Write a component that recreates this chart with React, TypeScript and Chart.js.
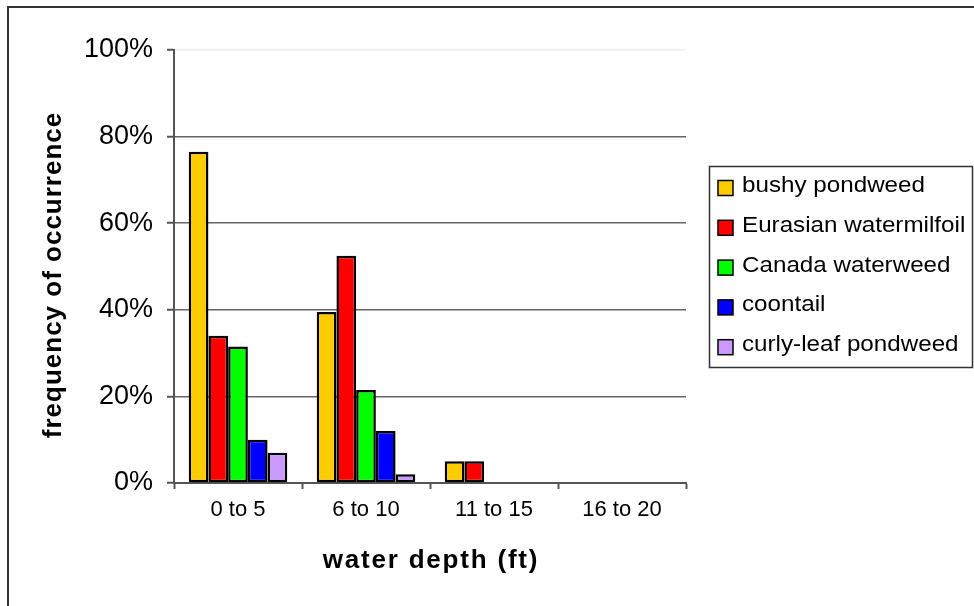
import React, { useEffect, useRef } from 'react';
import { Chart, registerables } from 'chart.js';

Chart.register(...registerables);

const FONT = '"Liberation Sans", Arial, Helvetica, sans-serif';

const categories = ['0 to 5', '6 to 10', '11 to 15', '16 to 20'];
const seriesNames = ['bushy pondweed', 'Eurasian watermilfoil', 'Canada waterweed', 'coontail', 'curly-leaf pondweed'];
const seriesColors = ['#FFCC00', '#FF0000', '#00FF00', '#0000FF', '#CC99FF'];
const bushyPondweed = [0.765, 0.395, 0.05, 0];
const eurasianWatermilfoil = [0.34, 0.525, 0.05, 0];
const canadaWaterweed = [0.315, 0.215, 0, 0];
const coontail = [0.1, 0.12, 0, 0];
const curlyLeafPondweed = [0.07, 0.02, 0, 0];
const yTickValues = [0, 0.2, 0.4, 0.6, 0.8, 1.0];
const yTitle = 'frequency of occurrence';
const xTitle = 'water depth (ft)';

export default function App() {
  const ref = useRef<HTMLCanvasElement>(null);

  useEffect(() => {
    const canvas = ref.current!;
    const seriesValues = [bushyPondweed, eurasianWatermilfoil, canadaWaterweed, coontail, curlyLeafPondweed];

    const decor = {
      id: 'decor',
      beforeDraw(chart: any) {
        const ctx = chart.ctx;
        ctx.save();
        ctx.fillStyle = '#ffffff';
        ctx.fillRect(0, 0, chart.width, chart.height);
        ctx.strokeStyle = '#333333';
        ctx.lineWidth = 2;
        ctx.beginPath();
        ctx.moveTo(7, 7);
        ctx.lineTo(974, 7);
        ctx.moveTo(8, 6);
        ctx.lineTo(8, 606);
        ctx.stroke();
        ctx.restore();
      },
      afterDraw(chart: any) {
        const ctx = chart.ctx;
        const area = chart.chartArea;
        ctx.save();
        ctx.fillStyle = '#000000';
        // x title
        ctx.font = `bold 26px ${FONT}`;
        (ctx as any).letterSpacing = '1.8px';
        ctx.textAlign = 'center';
        ctx.textBaseline = 'middle';
        ctx.fillText(xTitle, (area.left + area.right) / 2 + 1, 561);
        // y title
        (ctx as any).letterSpacing = '1.0px';
        ctx.save();
        ctx.translate(54, 275);
        ctx.rotate(-Math.PI / 2);
        ctx.fillText(yTitle, 0, 0);
        ctx.restore();
        (ctx as any).letterSpacing = '0px';

        // legend
        const bx = 709.5, by = 166.5, bw = 263, bh = 201;
        ctx.fillStyle = '#ffffff';
        ctx.fillRect(bx, by, bw, bh);
        ctx.strokeStyle = '#333333';
        ctx.lineWidth = 1.5;
        ctx.strokeRect(bx, by, bw, bh);
        chart.data.datasets.forEach((ds: any, i: number) => {
          const cy = 188 + i * 39.8;
          ctx.fillStyle = ds.backgroundColor;
          ctx.fillRect(718, cy - 7.5, 15, 15);
          ctx.strokeStyle = '#000000';
          ctx.lineWidth = 1.5;
          ctx.strokeRect(718, cy - 7.5, 15, 15);
          ctx.save();
          ctx.translate(742, cy - 2);
          ctx.scale(1.1, 1);
          ctx.fillStyle = '#000000';
          ctx.font = `22px ${FONT}`;
          ctx.textAlign = 'left';
          ctx.textBaseline = 'middle';
          ctx.fillText(ds.label, 0, 0);
          ctx.restore();
        });
        ctx.restore();
      },
    };

    const chart = new Chart(canvas, {
      type: 'bar',
      data: {
        labels: categories,
        datasets: seriesNames.map((name, i) => ({
          label: name,
          data: seriesValues[i],
          backgroundColor: seriesColors[i],
          borderColor: '#000000',
          borderWidth: (c: any) => (c.raw === 0 ? 0 : 2.5),
          borderSkipped: false,
          categoryPercentage: 0.77,
          barPercentage: 1.0,
        })),
      },
      options: {
        responsive: false,
        animation: false,
        events: [],
        layout: { padding: { left: 8, top: 50, right: 288, bottom: 0 } },
        plugins: {
          legend: { display: false },
          title: { display: false },
          tooltip: { enabled: false },
        },
        scales: {
          x: {
            type: 'category',
            offset: true,
            grid: {
              offset: true,
              drawOnChartArea: false,
              tickLength: 6,
              tickColor: '#555555',
              tickWidth: 2,
            },
            border: { color: '#555555', width: 2 },
            ticks: {
              font: { family: FONT, size: 22 },
              color: '#000000',
              padding: 8,
              maxRotation: 0,
              autoSkip: false,
            },
            afterFit: (s: any) => {
              s.height = 123;
            },
          },
          y: {
            min: 0,
            max: 1,
            afterBuildTicks: (s: any) => {
              s.ticks = yTickValues.map((v) => ({ value: v }));
            },
            ticks: {
              callback: (v: any) => `${Math.round(Number(v) * 100)}%`,
              font: { family: FONT, size: 27 },
              color: '#000000',
              padding: 14,
            },
            grid: {
              color: (c: any) => (c.tick && c.tick.value >= 1 ? '#eeeeee' : '#666666'),
              lineWidth: 1.5,
              tickLength: 7,
              tickColor: '#555555',
              tickWidth: 2,
            },
            border: { color: '#555555', width: 2 },
            afterFit: (s: any) => {
              s.width = 166;
            },
          },
        },
      },
      plugins: [decor],
    } as any);

    return () => chart.destroy();
  }, []);

  return (
    <div style={{ position: 'absolute', left: 0, top: 0, width: 974, height: 606 }}>
      <canvas ref={ref} width={974} height={606} style={{ display: 'block', width: 974, height: 606 }} />
    </div>
  );
}
